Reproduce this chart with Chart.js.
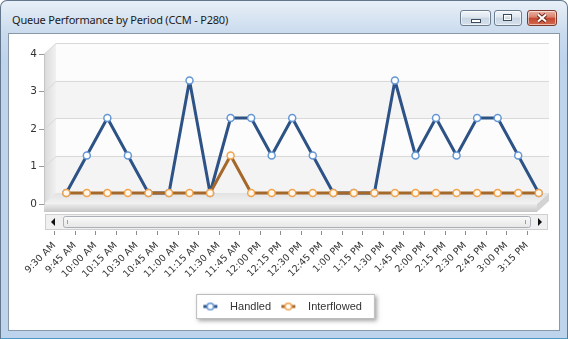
<!DOCTYPE html>
<html>
<head>
<meta charset="utf-8">
<title>Queue Performance by Period</title>
<script src="https://cdn.jsdelivr.net/npm/chart.js@4.4.1/dist/chart.umd.min.js"></script>
<style>
    html, body { margin: 0; padding: 0; background: #fff; }
    #jendela {
        position: absolute; left: 0; top: 0; width: 566px; height: 337px;
        border: 1px solid #62768c; border-bottom-color: #4d97c4;
        border-radius: 7px 7px 0 0; overflow: hidden;
        background: linear-gradient(#e8eff8 0px, #d9e5f2 16px, #cadbee 32px, #bed3ec 60px, #bed3ec 100%);
    }
    #judul { position: absolute; left: 11px; top: 11px; font: 11px "Noto Sans"; letter-spacing: -0.2px; color: #1b1b1b; }
    .tombol {
        position: absolute; top: 9px; height: 14px; border: 1px solid #6d7d90; border-radius: 3px;
        background: linear-gradient(#f3f6fa, #dde5ee 45%, #c9d5e3 50%, #d7e1ec);
        box-shadow: inset 0 0 0 1px rgba(255,255,255,0.55);
    }
    #tmin { left: 459px; width: 29px; }
    #tmax { left: 493px; width: 26px; }
    #tclose { left: 526px; width: 28px; border-color: #7d3a2c; background: linear-gradient(#ebb3a5, #da7f6a 45%, #c4462f 50%, #d2694d); }
    #tmin span { position: absolute; left: 10px; top: 8px; width: 8px; height: 2px; background: #fff; border: 1px solid #3b4b5e; }
    #tmax span { position: absolute; left: 8px; top: 3px; width: 7px; height: 5px; border: 1px solid #3b4b5e; box-shadow: inset 0 0 0 1px #fff; }
    #tclose svg { position: absolute; left: 0; top: 0; }
    #isi { position: absolute; left: 7px; top: 32px; width: 550px; height: 296px; border: 1px solid #8a99aa; background: #fff; }
    #grafik { position: absolute; left: 0; top: 0; }
</style>
</head>
<body>
<div id="jendela">
    <div id="judul">Queue Performance by Period (CCM - P280)</div>
    <div class="tombol" id="tmin"><span></span></div>
    <div class="tombol" id="tmax"><span></span></div>
    <div class="tombol" id="tclose">
        <svg width="28" height="14"><path d="M10 3.5 L18 10.5 M18 3.5 L10 10.5" stroke="#6a2a1c" stroke-width="4"/><path d="M10 3.5 L18 10.5 M18 3.5 L10 10.5" stroke="#fff" stroke-width="2"/></svg>
    </div>
    <div id="isi"></div>
</div>
<canvas id="grafik" width="568" height="339"></canvas>

<script>
// --- DATA ---
var labelWaktu = ['9:30 AM', '9:45 AM', '10:00 AM', '10:15 AM', '10:30 AM', '10:45 AM',
    '11:00 AM', '11:15 AM', '11:30 AM', '11:45 AM', '12:00 PM', '12:15 PM',
    '12:30 PM', '12:45 PM', '1:00 PM', '1:15 PM', '1:30 PM', '1:45 PM',
    '2:00 PM', '2:15 PM', '2:30 PM', '2:45 PM', '3:00 PM', '3:15 PM'];
var dataHandled = [0, 1, 2, 1, 0, 0, 3, 0, 2, 2, 1, 2, 1, 0, 0, 0, 3, 1, 2, 1, 2, 2, 1, 0];
var dataInterflowed = [0, 0, 0, 0, 0, 0, 0, 0, 1, 0, 0, 0, 0, 0, 0, 0, 0, 0, 0, 0, 0, 0, 0, 0];
var tickSumbuY = [0, 1, 2, 3, 4];

// geser kedalaman 3D (bidang belakang terhadap bidang depan)
var DX = 12;
var DY = -11;

// --- GAMBAR PENANDA LEGENDA (garis + lingkaran) ---
function buatPenanda(warnaGaris, warnaTepi) {
    var c = document.createElement('canvas');
    c.width = 22;
    c.height = 10;
    var g = c.getContext('2d');
    g.strokeStyle = warnaGaris;
    g.lineWidth = 3;
    g.beginPath();
    g.moveTo(1, 5);
    g.lineTo(15, 5);
    g.stroke();
    g.beginPath();
    g.arc(8, 5, 3.3, 0, Math.PI * 2);
    g.fillStyle = '#fff';
    g.fill();
    g.lineWidth = 1.5;
    g.strokeStyle = warnaTepi;
    g.stroke();
    return c;
}
var penanda = [buatPenanda('#2d5286', '#5f92d2'), buatPenanda('#a4682a', '#f0a24a')];

// --- PLUGIN LATAR 3D, SCROLLBAR DAN KOTAK LEGENDA ---
var pluginLatar = {
    id: 'latar3d',
    beforeDraw: function(chart) {
        var ctx = chart.ctx;
        var ca = chart.chartArea;
        var sy = chart.scales.y;
        var sx = chart.scales.x;
        var i, y1, y2, grad;

        ctx.save();

        // pita latar belakang bergantian
        for (i = 0; i < tickSumbuY.length - 1; i++) {
            y1 = sy.getPixelForValue(tickSumbuY[i]) + DY;
            y2 = sy.getPixelForValue(tickSumbuY[i + 1]) + DY;
            ctx.fillStyle = (i % 2 === 0) ? '#f4f4f4' : '#fcfcfc';
            ctx.fillRect(ca.left + DX, y2, ca.right - ca.left, y1 - y2);
        }

        // dinding kiri
        grad = ctx.createLinearGradient(ca.left, 0, ca.left + DX, 0);
        grad.addColorStop(0, '#d9d9d9');
        grad.addColorStop(1, '#f1f1f1');
        ctx.fillStyle = grad;
        ctx.beginPath();
        ctx.moveTo(ca.left, ca.top);
        ctx.lineTo(ca.left + DX, ca.top + DY);
        ctx.lineTo(ca.left + DX, ca.bottom + DY);
        ctx.lineTo(ca.left, ca.bottom);
        ctx.closePath();
        ctx.fill();

        // garis grid (belakang + miring di dinding)
        ctx.strokeStyle = '#d9d9d9';
        ctx.lineWidth = 1;
        for (i = 0; i < tickSumbuY.length; i++) {
            var py = Math.round(sy.getPixelForValue(tickSumbuY[i])) + 0.5;
            ctx.beginPath();
            ctx.moveTo(ca.left, py);
            ctx.lineTo(ca.left + DX, py + DY);
            ctx.lineTo(ca.right + DX, py + DY);
            ctx.stroke();
        }

        // lantai: permukaan atas
        grad = ctx.createLinearGradient(0, ca.bottom + DY, 0, ca.bottom);
        grad.addColorStop(0, '#e2e2e2');
        grad.addColorStop(1, '#f3f3f3');
        ctx.fillStyle = grad;
        ctx.beginPath();
        ctx.moveTo(ca.left, ca.bottom);
        ctx.lineTo(ca.left + DX, ca.bottom + DY);
        ctx.lineTo(ca.right + DX, ca.bottom + DY);
        ctx.lineTo(ca.right, ca.bottom);
        ctx.closePath();
        ctx.fill();

        // lantai: sisi depan
        grad = ctx.createLinearGradient(0, ca.bottom, 0, ca.bottom + 8);
        grad.addColorStop(0, '#ececec');
        grad.addColorStop(1, '#c6c6c6');
        ctx.fillStyle = grad;
        ctx.fillRect(ca.left, ca.bottom, ca.right - ca.left, 8);

        // lantai: sisi kanan
        ctx.fillStyle = '#d3d3d3';
        ctx.beginPath();
        ctx.moveTo(ca.right, ca.bottom);
        ctx.lineTo(ca.right + DX, ca.bottom + DY);
        ctx.lineTo(ca.right + DX, ca.bottom + DY + 8);
        ctx.lineTo(ca.right, ca.bottom + 8);
        ctx.closePath();
        ctx.fill();

        // --- scrollbar ---
        var sbKiri = ca.left + 1, sbKanan = ca.right + DX - 1;
        var sbAtas = ca.bottom + 10, sbBawah = ca.bottom + 26;
        ctx.fillStyle = '#f0f0f0';
        ctx.fillRect(sbKiri, sbAtas, sbKanan - sbKiri, sbBawah - sbAtas);
        ctx.strokeStyle = '#cfcfcf';
        ctx.strokeRect(sbKiri + 0.5, sbAtas + 0.5, sbKanan - sbKiri - 1, sbBawah - sbAtas - 1);

        // thumb
        var tKiri = sbKiri + 18, tKanan = sbKanan - 18;
        grad = ctx.createLinearGradient(0, sbAtas + 2, 0, sbBawah - 2);
        grad.addColorStop(0, '#fbfbfb');
        grad.addColorStop(1, '#e6e6e6');
        ctx.fillStyle = grad;
        ctx.beginPath();
        ctx.roundRect(tKiri + 0.5, sbAtas + 2.5, tKanan - tKiri, sbBawah - sbAtas - 5, 2);
        ctx.fill();
        ctx.strokeStyle = '#a9b0b8';
        ctx.stroke();
        ctx.strokeStyle = '#9aa0a6';
        ctx.beginPath();
        ctx.moveTo(tKiri + 4.5, sbAtas + 6);
        ctx.lineTo(tKiri + 4.5, sbBawah - 6);
        ctx.moveTo(tKanan - 4.5, sbAtas + 6);
        ctx.lineTo(tKanan - 4.5, sbBawah - 6);
        ctx.stroke();

        // panah kiri dan kanan
        var tengahY = (sbAtas + sbBawah) / 2;
        ctx.fillStyle = '#111';
        ctx.beginPath();
        ctx.moveTo(sbKiri + 6, tengahY);
        ctx.lineTo(sbKiri + 10, tengahY - 4);
        ctx.lineTo(sbKiri + 10, tengahY + 4);
        ctx.closePath();
        ctx.fill();
        ctx.beginPath();
        ctx.moveTo(sbKanan - 6, tengahY);
        ctx.lineTo(sbKanan - 10, tengahY - 4);
        ctx.lineTo(sbKanan - 10, tengahY + 4);
        ctx.closePath();
        ctx.fill();

        // tanda tick sumbu X di bawah scrollbar
        ctx.strokeStyle = '#8c8c8c';
        ctx.beginPath();
        for (i = 0; i < labelWaktu.length; i++) {
            var px = Math.round(sx.getPixelForTick(i)) + 0.5;
            ctx.moveTo(px, sbBawah + 1);
            ctx.lineTo(px, sbBawah + 5);
        }
        ctx.stroke();

        // kotak legenda dengan bayangan
        var hb = chart.legend.legendHitBoxes;
        if (hb && hb.length) {
            var akhir = hb[hb.length - 1];
            var lx = hb[0].left - 6;
            var lw = akhir.left + akhir.width + 13 - lx;
            var ly = hb[0].top - 7;
            var lh = 25;
            ctx.shadowColor = 'rgba(0,0,0,0.35)';
            ctx.shadowBlur = 4;
            ctx.shadowOffsetX = 2;
            ctx.shadowOffsetY = 2;
            ctx.fillStyle = '#fff';
            ctx.fillRect(lx, ly, lw, lh);
            ctx.shadowColor = 'transparent';
            ctx.strokeStyle = '#bdbdbd';
            ctx.strokeRect(lx + 0.5, ly + 0.5, lw - 1, lh - 1);
        }

        ctx.restore();
    },
    // garis data digambar di bidang belakang
    beforeDatasetsDraw: function(chart) {
        chart.ctx.save();
        chart.ctx.translate(DX, DY);
    },
    afterDatasetsDraw: function(chart) {
        chart.ctx.restore();
    }
};

// --- INISIALISASI GRAFIK ---
var ctx = document.getElementById('grafik').getContext('2d');
var grafik = new Chart(ctx, {
    type: 'line',
    data: {
        labels: labelWaktu,
        datasets: [{
            label: 'Handled',
            data: dataHandled,
            borderColor: '#2d5286',
            borderWidth: 3,
            borderJoinStyle: 'round',
            tension: 0,
            pointRadius: 3.5,
            pointBorderWidth: 1.5,
            pointBackgroundColor: '#fff',
            pointBorderColor: '#6497d6',
            clip: false,
            order: 2
        }, {
            label: 'Interflowed',
            data: dataInterflowed,
            borderColor: '#a4682a',
            borderWidth: 3,
            borderJoinStyle: 'round',
            tension: 0,
            pointRadius: 3.5,
            pointBorderWidth: 1.5,
            pointBackgroundColor: '#fff8ee',
            pointBorderColor: '#f2a34c',
            clip: false,
            order: 1
        }]
    },
    options: {
        responsive: false,
        animation: false,
        events: [],
        devicePixelRatio: 1,
        layout: { padding: { left: 27, right: 31, top: 54, bottom: 17 } },
        scales: {
            x: {
                offset: true,
                grid: { display: false, drawTicks: false, offset: true },
                border: { display: false },
                ticks: {
                    autoSkip: false,
                    minRotation: 45,
                    maxRotation: 45,
                    padding: 36,
                    color: '#333',
                    font: { family: 'DejaVu Sans', size: 9.5 }
                },
                afterFit: function(s) {
                    s.height = 88;
                    s.paddingLeft = 0;
                    s.paddingRight = 0;
                }
            },
            y: {
                min: tickSumbuY[0],
                max: tickSumbuY[tickSumbuY.length - 1],
                ticks: {
                    stepSize: 1,
                    padding: 2,
                    color: '#333',
                    font: { family: 'DejaVu Sans', size: 10.5 }
                },
                grid: { drawOnChartArea: false, drawTicks: true, tickLength: 5, color: '#999' },
                border: { display: true, color: '#c4c4c4' },
                afterFit: function(s) { s.width = 17; }
            }
        },
        plugins: {
            tooltip: { enabled: false },
            legend: {
                position: 'bottom',
                labels: {
                    usePointStyle: true,
                    pointStyleWidth: 22.5,
                    padding: 9,
                    color: '#333',
                    font: { family: 'Liberation Sans', size: 11 },
                    sort: function(a, b) { return a.datasetIndex - b.datasetIndex; },
                    generateLabels: function(chart) {
                        var item = Chart.defaults.plugins.legend.labels.generateLabels(chart);
                        item.forEach(function(it) {
                            it.pointStyle = penanda[it.datasetIndex];
                        });
                        return item;
                    }
                }
            }
        }
    },
    plugins: [pluginLatar]
});
</script>
</body>
</html>
